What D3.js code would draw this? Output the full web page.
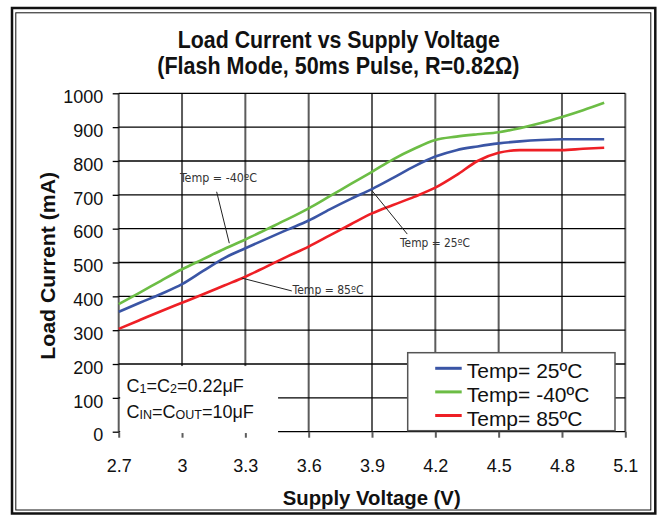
<!DOCTYPE html>
<html>
<head>
<meta charset="utf-8">
<script src="https://cdn.jsdelivr.net/npm/d3@7"></script>
<style>
  body { margin: 0; background: #fff; }
  svg { display: block; }
</style>
</head>
<body>
<script>
// supply voltage (V), one reading every 0.1 V
let volts = [2.7, 2.8, 2.9, 3.0, 3.1, 3.2, 3.3, 3.4, 3.5, 3.6, 3.7, 3.8,
             3.9, 4.0, 4.1, 4.2, 4.3, 4.4, 4.5, 4.6, 4.7, 4.8, 4.9, 5.0];

// load current (mA)
let temp25 = [354, 381, 407, 436, 475, 513, 542, 570, 597, 624, 657, 688,
              717, 750, 784, 813, 832, 843, 852, 858, 862, 864, 864, 864];
let tempMinus40 = [377, 411, 446, 480, 510, 540, 568, 598, 628, 660, 696, 732,
                   768, 805, 836, 862, 872, 879, 885, 897, 912, 930, 950, 972];
let temp85 = [304, 330, 356, 381, 406, 432, 458, 488, 518, 547, 580, 613,
              645, 670, 694, 721, 758, 800, 824, 832, 832, 832, 836, 839];

let seriesNames = ["Temp= 25ºC", "Temp= -40ºC", "Temp= 85ºC"];
let xTicks = [2.7, 3, 3.3, 3.6, 3.9, 4.2, 4.5, 4.8, 5.1];
let xTickLabels = ["2.7", "3", "3.3", "3.6", "3.9", "4.2", "4.5", "4.8", "5.1"];
let yTicks = [0, 100, 200, 300, 400, 500, 600, 700, 800, 900, 1000];

let colors = ["#3a55a5", "#6cbd45", "#ee1f25"];
let font = "'Liberation Sans', Arial, sans-serif";

let svg = d3.select("body").append("svg")
  .attr("width", 665)
  .attr("height", 515);

// double frame around the whole chart
svg.append("rect")
  .attr("x", 12).attr("y", 8).attr("width", 643.3).attr("height", 505.5)
  .attr("fill", "none").attr("stroke", "#111").attr("stroke-width", 2.5);
svg.append("rect")
  .attr("x", 15.8).attr("y", 12.8).attr("width", 635).attr("height", 497.2)
  .attr("fill", "none").attr("stroke", "#111").attr("stroke-width", 1);

let x = d3.scaleLinear().domain([2.7, 5.1]).range([118.7, 625.3]);
let y = d3.scaleLinear().domain([0, 1000]).range([431.7, 93.3]);

// grid
svg.append("g").selectAll("line")
  .data(xTicks)
  .enter().append("line")
  .attr("x1", d => x(d)).attr("x2", d => x(d))
  .attr("y1", y(1000)).attr("y2", y(0))
  .attr("stroke", "#5c5c5c").attr("stroke-width", 2);

svg.append("g").selectAll("line")
  .data(yTicks)
  .enter().append("line")
  .attr("x1", x(2.7)).attr("x2", x(5.1))
  .attr("y1", d => y(d)).attr("y2", d => y(d))
  .attr("stroke", "#000").attr("stroke-width", 1.3);

// axes (ticks + labels only, the grid draws the lines)
let xAxis = g =>
  g.attr("transform", `translate(0,${y(0)})`)
    .call(d3.axisBottom(x).tickValues(xTicks).tickSize(6)
      .tickFormat((d, i) => xTickLabels[i]))
    .call(g => g.select(".domain").remove())
    .call(g => g.selectAll(".tick line").attr("stroke", "#5c5c5c").attr("stroke-width", 2))
    .call(g => g.selectAll("text")
      .attr("y", 40.5).attr("dy", null)
      .attr("fill", "#111")
      .style("font", `18px ${font}`));

let yAxis = g =>
  g.attr("transform", `translate(${x(2.7)},0)`)
    .call(d3.axisLeft(y).tickValues(yTicks).tickSize(6).tickPadding(9.4)
      .tickFormat(d3.format("d")))
    .call(g => g.select(".domain").remove())
    .call(g => g.selectAll(".tick line").attr("stroke", "#000").attr("stroke-width", 1.3))
    .call(g => g.selectAll("text")
      .attr("dy", "0.51em")
      .attr("fill", "#111")
      .style("font", `18px ${font}`));

svg.append("g").call(xAxis);
svg.append("g").call(yAxis);

// curves
let series = [temp25, tempMinus40, temp85];
let line = d3.line()
  .x((d, i) => x(volts[i]))
  .y(d => y(d))
  .curve(d3.curveMonotoneX);

svg.append("g").selectAll("path")
  .data(series)
  .enter().append("path")
  .attr("d", d => line(d))
  .attr("fill", "none")
  .attr("stroke", (d, i) => colors[i])
  .attr("stroke-width", 2.6)
  .attr("stroke-linejoin", "round");

// call-out labels on the curves (positions in data units)
let callouts = [
  { text: "Temp = -40ºC", at: [2.99, 739], from: [3.164, 709], to: [3.224, 557], w: 77 },
  { text: "Temp = 25ºC", at: [4.033, 547], from: [4.067, 584], to: [3.899, 713], w: 70 },
  { text: "Temp = 85ºC", at: [3.524, 406], from: [3.52, 416], to: [3.283, 454], w: 71 }
];

let callout = svg.append("g").selectAll("g")
  .data(callouts)
  .enter().append("g");

callout.append("line")
  .attr("x1", d => x(d.from[0])).attr("y1", d => y(d.from[1]))
  .attr("x2", d => x(d.to[0])).attr("y2", d => y(d.to[1]))
  .attr("stroke", "#222").attr("stroke-width", 1);

callout.append("text")
  .attr("x", d => x(d.at[0]))
  .attr("y", d => y(d.at[1]))
  .attr("textLength", d => d.w)
  .attr("lengthAdjust", "spacingAndGlyphs")
  .attr("fill", "#333")
  .style("font", "11.5px 'DejaVu Sans Condensed', 'DejaVu Sans', sans-serif")
  .text(d => d.text);

// capacitor note, on a white patch over the grid
svg.append("rect")
  .attr("x", x(2.7) + 1.5).attr("y", y(194))
  .attr("width", x(3.455) - x(2.7) - 1.5).attr("height", y(-4) - y(194))
  .attr("fill", "#fff");

let note = svg.append("g").style("font", `18px ${font}`).attr("fill", "#111");
let n1 = note.append("text").attr("x", 126.5).attr("y", 391.7);
n1.append("tspan").text("C");
n1.append("tspan").attr("font-size", 12.5).attr("dy", 1).text("1");
n1.append("tspan").attr("dy", -1).text("=C");
n1.append("tspan").attr("font-size", 12.5).attr("dy", 1).text("2");
n1.append("tspan").attr("dy", -1).text("=0.22μF");

let n2 = note.append("text").attr("x", 126.5).attr("y", 418.3);
n2.append("tspan").text("C");
n2.append("tspan").attr("font-size", 12.5).attr("dy", 1).text("IN");
n2.append("tspan").attr("dy", -1).text("=C");
n2.append("tspan").attr("font-size", 12.5).attr("dy", 1).text("OUT");
n2.append("tspan").attr("dy", -1).text("=10μF");

// legend
let legend = svg.append("g").attr("transform", "translate(407.7,352.7)");
legend.append("rect")
  .attr("width", 207.3).attr("height", 78)
  .attr("fill", "#fff").attr("stroke", "#555").attr("stroke-width", 1.5);

let item = legend.selectAll("g.item")
  .data(seriesNames)
  .enter().append("g")
  .attr("class", "item")
  .attr("transform", (d, i) => `translate(0,${15.6 + i * 23.6})`);

item.append("line")
  .attr("x1", 27.5).attr("x2", 54)
  .attr("stroke", (d, i) => colors[i]).attr("stroke-width", 3);

item.append("text")
  .attr("x", 59)
  .attr("y", 10)
  .attr("fill", "#111")
  .style("font", `21px ${font}`)
  .text(d => d);

// titles
let title = svg.append("g")
  .attr("text-anchor", "middle")
  .attr("fill", "#111")
  .style("font", `bold 23.5px ${font}`);
title.append("text")
  .attr("x", 338.8).attr("y", 48.3)
  .attr("textLength", 322).attr("lengthAdjust", "spacingAndGlyphs")
  .text("Load Current vs Supply Voltage");
title.append("text")
  .attr("x", 338.3).attr("y", 74.3)
  .attr("textLength", 362).attr("lengthAdjust", "spacingAndGlyphs")
  .text("(Flash Mode, 50ms Pulse, R=0.82Ω)");

svg.append("text")
  .attr("x", 371.7).attr("y", 505)
  .attr("text-anchor", "middle")
  .attr("textLength", 178).attr("lengthAdjust", "spacingAndGlyphs")
  .attr("fill", "#111")
  .style("font", `bold 21px ${font}`)
  .text("Supply Voltage (V)");

svg.append("text")
  .attr("transform", "translate(55,265.8) rotate(-90)")
  .attr("text-anchor", "middle")
  .attr("textLength", 188).attr("lengthAdjust", "spacingAndGlyphs")
  .attr("fill", "#111")
  .style("font", `bold 21px ${font}`)
  .text("Load Current (mA)");
</script>
</body>
</html>
